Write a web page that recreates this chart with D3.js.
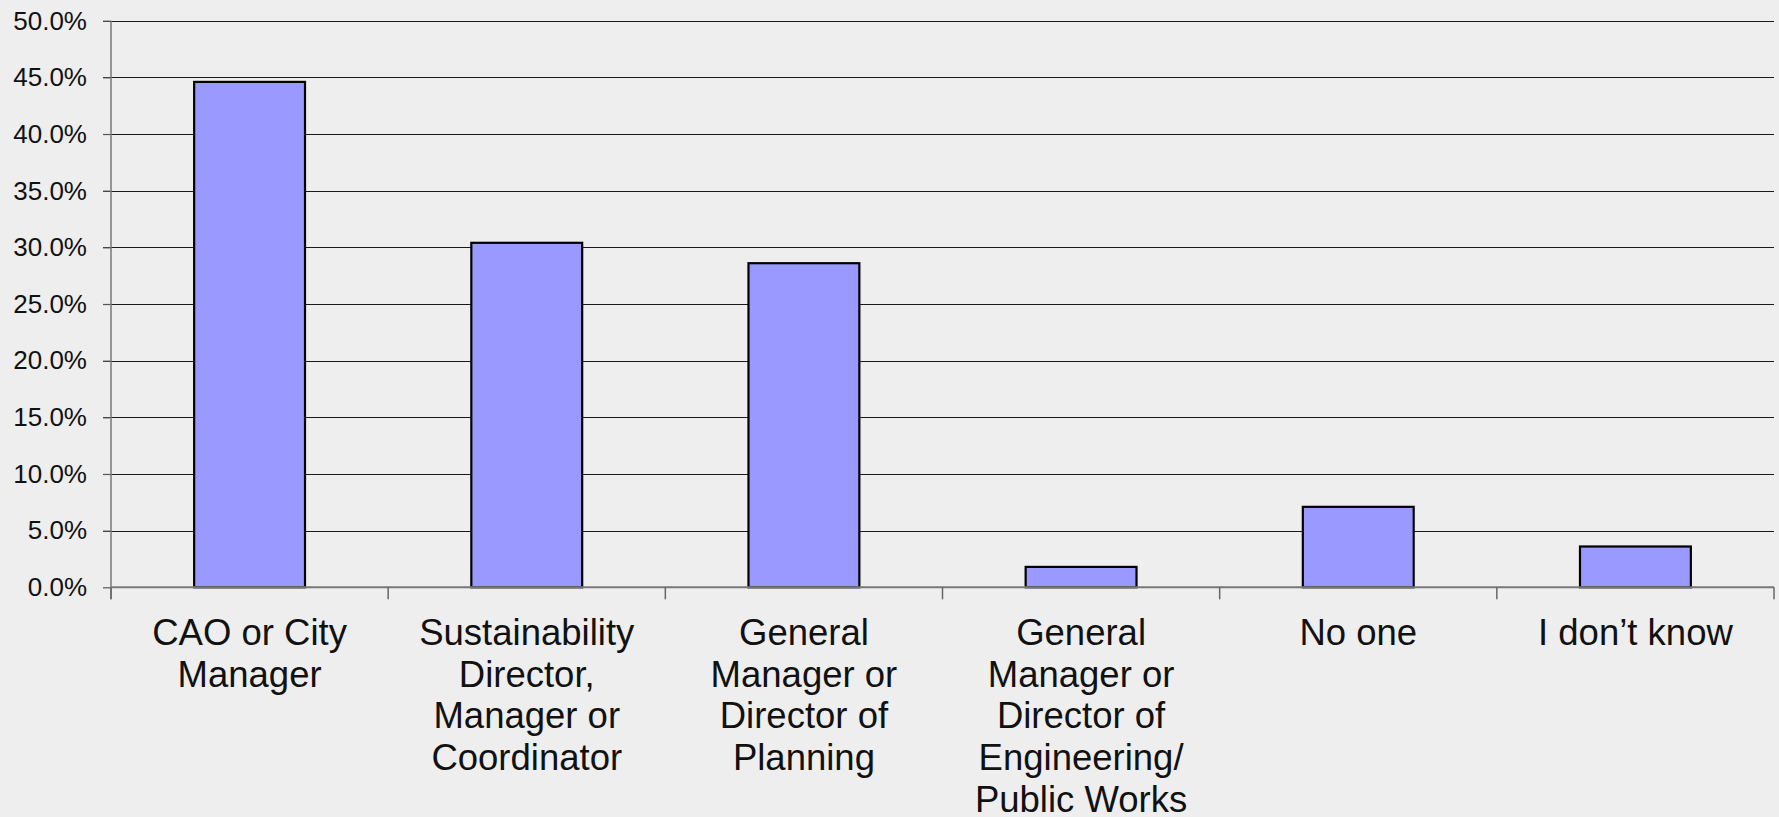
<!DOCTYPE html>
<html>
<head>
<meta charset="utf-8">
<script src="https://cdn.jsdelivr.net/npm/d3@7"></script>
<style>
  html, body { margin: 0; padding: 0; background: #eeeeee; }
  svg { display: block; }
  text { font-family: "Liberation Sans", Arial, sans-serif; fill: #111; }
</style>
</head>
<body>
<svg id="chart" width="1779" height="817"></svg>
<script>
// ---- data ----
const categories = [
  "CAO or City Manager",
  "Sustainability Director, Manager or Coordinator",
  "General Manager or Director of Planning",
  "General Manager or Director of Engineering/ Public Works",
  "No one",
  "I don\u2019t know"
];
const categoryLines = [
  ["CAO or City", "Manager"],
  ["Sustainability", "Director,", "Manager or", "Coordinator"],
  ["General", "Manager or", "Director of", "Planning"],
  ["General", "Manager or", "Director of", "Engineering/", "Public Works"],
  ["No one"],
  ["I don\u2019t know"]
];
const values = [44.6, 30.4, 28.6, 1.8, 7.1, 3.6];
const yTicks = [0, 5, 10, 15, 20, 25, 30, 35, 40, 45, 50];

(function () {
  // ---- layout ----
  const W = 1779, H = 817;
  const pLeft = 111, pRight = 1774, pTop = 20.7, pBottom = 587.3;

  const svg = d3.select("#chart");
  svg.append("rect").attr("width", W).attr("height", H).attr("fill", "#eeeeee");

  const x = d3.scaleBand().domain(categories).range([pLeft, pRight])
    .paddingInner(0.6).paddingOuter(0.3);
  const y = d3.scaleLinear().domain([0, 50]).range([pBottom, pTop]);

  // gridlines
  svg.append("g").selectAll("line").data(yTicks.filter(d => d > 0)).join("line")
    .attr("x1", pLeft - 8).attr("x2", pRight)
    .attr("y1", d => Math.round(y(d)) + 0.5).attr("y2", d => Math.round(y(d)) + 0.5)
    .attr("stroke", "#1a1a1a").attr("stroke-width", 1.2);

  // y axis
  const yAxis = d3.axisLeft(y).tickValues(yTicks).tickSize(8).tickPadding(16)
    .tickFormat(d => d3.format(".1f")(d) + "%");
  const gy = svg.append("g").attr("transform", `translate(${pLeft},0)`).call(yAxis);
  gy.select(".domain").remove();
  gy.selectAll(".tick line").attr("stroke", "#555").attr("stroke-width", 1.2);
  gy.selectAll(".tick text").attr("font-size", 26)
    .attr("font-family", "'Liberation Sans', Arial, sans-serif").attr("fill", "#111");
  svg.append("line").attr("x1", pLeft).attr("x2", pLeft)
    .attr("y1", pTop).attr("y2", pBottom + 12)
    .attr("stroke", "#777").attr("stroke-width", 1.5);

  // bars
  svg.append("g").selectAll("rect").data(categories).join("rect")
    .attr("x", d => x(d))
    .attr("y", (d, i) => y(values[i]))
    .attr("width", x.bandwidth())
    .attr("height", (d, i) => y(0) - y(values[i]))
    .attr("fill", "#9999ff")
    .attr("stroke", "#000").attr("stroke-width", 2.2);

  // x axis
  svg.append("line").attr("x1", pLeft).attr("x2", pRight)
    .attr("y1", pBottom).attr("y2", pBottom)
    .attr("stroke", "#777").attr("stroke-width", 2);
  const boundaries = d3.range(categories.length + 1)
    .map(i => pLeft + i * (pRight - pLeft) / categories.length);
  svg.append("g").selectAll("line").data(boundaries).join("line")
    .attr("x1", d => d).attr("x2", d => d)
    .attr("y1", pBottom).attr("y2", pBottom + 12)
    .attr("stroke", "#666").attr("stroke-width", 1.5);

  // category labels
  const lab = svg.append("g").selectAll("text").data(categories).join("text")
    .attr("text-anchor", "middle")
    .attr("font-size", 36.5)
    .attr("x", d => x(d) + x.bandwidth() / 2)
    .attr("y", 645);
  lab.each(function (d, i) {
    const t = d3.select(this);
    categoryLines[i].forEach((ln, j) => {
      t.append("tspan").attr("x", x(d) + x.bandwidth() / 2)
        .attr("dy", j === 0 ? 0 : 41.7).text(ln);
    });
  });
})();
</script>
</body>
</html>
